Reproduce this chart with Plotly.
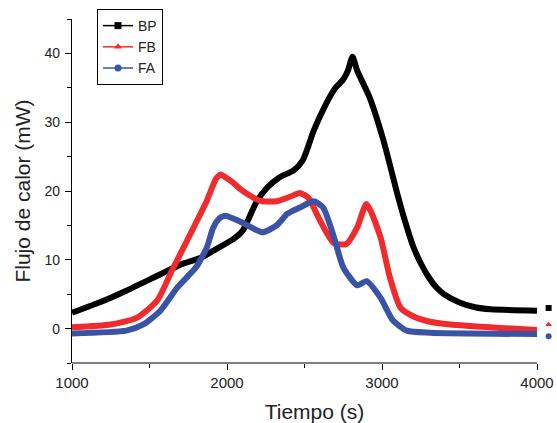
import plotly.graph_objects as go

# Data
bp_t = [1000, 1200, 1350, 1570, 1700, 1830, 1910, 2040, 2100, 2130, 2190, 2260, 2340, 2430, 2490,
        2560, 2640, 2700, 2750, 2780, 2810, 2840, 2920, 3010, 3100, 3150, 3200, 3250, 3300, 3350,
        3400, 3500, 3600, 3700, 4000]
bp_v = [2.3, 4.0, 5.5, 7.9, 9.3, 10.3, 11.3, 13.0, 14.2, 15.5, 18.4, 20.5, 22.0, 23.0, 24.5,
        28.8, 32.7, 35.0, 36.2, 37.5, 39.5, 37.5, 33.6, 27.3, 19.5, 15.5, 12.0, 9.5, 7.5, 6.0,
        5.0, 3.8, 3.1, 2.8, 2.6]

fb_t = [1000, 1250, 1420, 1550, 1650, 1700, 1780, 1870, 1930, 1960, 1990, 2040, 2090, 2210, 2320,
        2410, 2470, 2525, 2600, 2690, 2770, 2840, 2900, 2990, 3050, 3120, 3200, 3310, 3440, 3760, 4000]
fb_v = [0.2, 0.6, 1.6, 4.1, 8.7, 10.9, 14.5, 18.6, 21.8, 22.4, 22.0, 21.2, 20.2, 18.6, 18.5,
        19.2, 19.7, 19.0, 15.7, 12.4, 12.3, 14.7, 18.1, 13.3, 7.5, 3.0, 1.8, 1.0, 0.6, 0.1, -0.2]

fa_t = [1000, 1350, 1460, 1570, 1680, 1800, 1870, 1910, 1950, 1990, 2040, 2090, 2230, 2320, 2390,
        2470, 2560, 2620, 2690, 2750, 2840, 2900, 2990, 3070, 3160, 3310, 4000]
fa_v = [-0.7, -0.3, 0.6, 2.6, 6.0, 8.9, 11.8, 14.6, 16.0, 16.4, 16.0, 15.5, 14.0, 15.0, 16.7,
        17.6, 18.5, 17.6, 13.3, 8.9, 6.3, 6.9, 4.5, 1.2, -0.3, -0.6, -0.8]

names = ["BP", "FB", "FA"]
end_x = [4075, 4075, 4075]
end_v = [3.0, 0.6, -1.1]

x_ticks = [1000, 2000, 3000, 4000]
x_minor = [1500, 2500, 3500]
y_ticks = [0, 10, 20, 30, 40]

colors = ["#000000", "#EF2B2D", "#3B53A4"]
symbols = ["square", "triangle-up", "circle"]
series = [(bp_t, bp_v), (fb_t, fb_v), (fa_t, fa_v)]

X0, X1 = 1000, 4000
plot_px = 465.0   # width of the drawn x axis
full_px = 485.0   # plot area incl. room for the end markers
x_max = X0 + (X1 - X0) * full_px / plot_px

fig = go.Figure()
for (t, v), c in zip(series, colors):
    fig.add_trace(go.Scatter(x=t, y=v, mode="lines", showlegend=False,
                             line=dict(color=c, width=6, shape="spline", smoothing=0.6)))
for i, (n, c, s) in enumerate(zip(names, colors, symbols)):
    fig.add_trace(go.Scatter(x=[end_x[i]], y=[end_v[i]], mode="markers", showlegend=False,
                             cliponaxis=False, marker=dict(color=c, symbol=s, size=6)))
    fig.add_trace(go.Scatter(x=[None], y=[None], mode="lines+markers", name=n,
                             line=dict(color=c, width=1.5),
                             marker=dict(color=c, symbol=s, size=7)))

# x axis line only from 1000 to 4000
fig.add_shape(type="line", xref="x", yref="paper", x0=X0, x1=X1, y0=0, y1=0,
              line=dict(color="black", width=1.2), layer="above")

tick_common = dict(ticks="outside", ticklen=6, tickwidth=1.2, tickcolor="black",
                   showgrid=False, zeroline=False, mirror=False, automargin=False)

fig.update_layout(
    width=557, height=423,
    margin=dict(l=72, r=0, t=19, b=60, autoexpand=False),
    paper_bgcolor="white", plot_bgcolor="white",
    xaxis=dict(range=[X0, x_max], tickvals=x_ticks, showline=False,
               minor=dict(tickvals=x_minor, ticks="outside", ticklen=4, tickcolor="black", tickwidth=1.2),
               tickfont=dict(family="Liberation Sans", size=15, color="#222"),
               title=dict(text="Tiempo (s)", font=dict(family="Liberation Sans", size=21, color="#222"),
                          standoff=14),
               **tick_common),
    yaxis=dict(range=[-5, 45], tickvals=y_ticks, showline=True, linecolor="black", linewidth=1.2,
               minor=dict(tick0=-5, dtick=5, ticks="outside", ticklen=4, tickcolor="black", tickwidth=1.2),
               tickfont=dict(family="Liberation Sans", size=14, color="#222"),
               ticklabelstandoff=2,
               title=dict(text="Flujo de calor (mW)", font=dict(family="Liberation Sans", size=21, color="#222"),
                          standoff=8),
               **tick_common),
    legend=dict(x=25 / full_px, y=1.029, xanchor="left", yanchor="top", bordercolor="black", borderwidth=1,
                bgcolor="white", font=dict(family="Liberation Sans", size=14, color="#222"),
                tracegroupgap=0, itemwidth=30),
)

fig.write_html("out.html", config={"displayModeBar": False},
               post_script="document.body.style.margin='0';document.body.style.overflow='hidden';")
